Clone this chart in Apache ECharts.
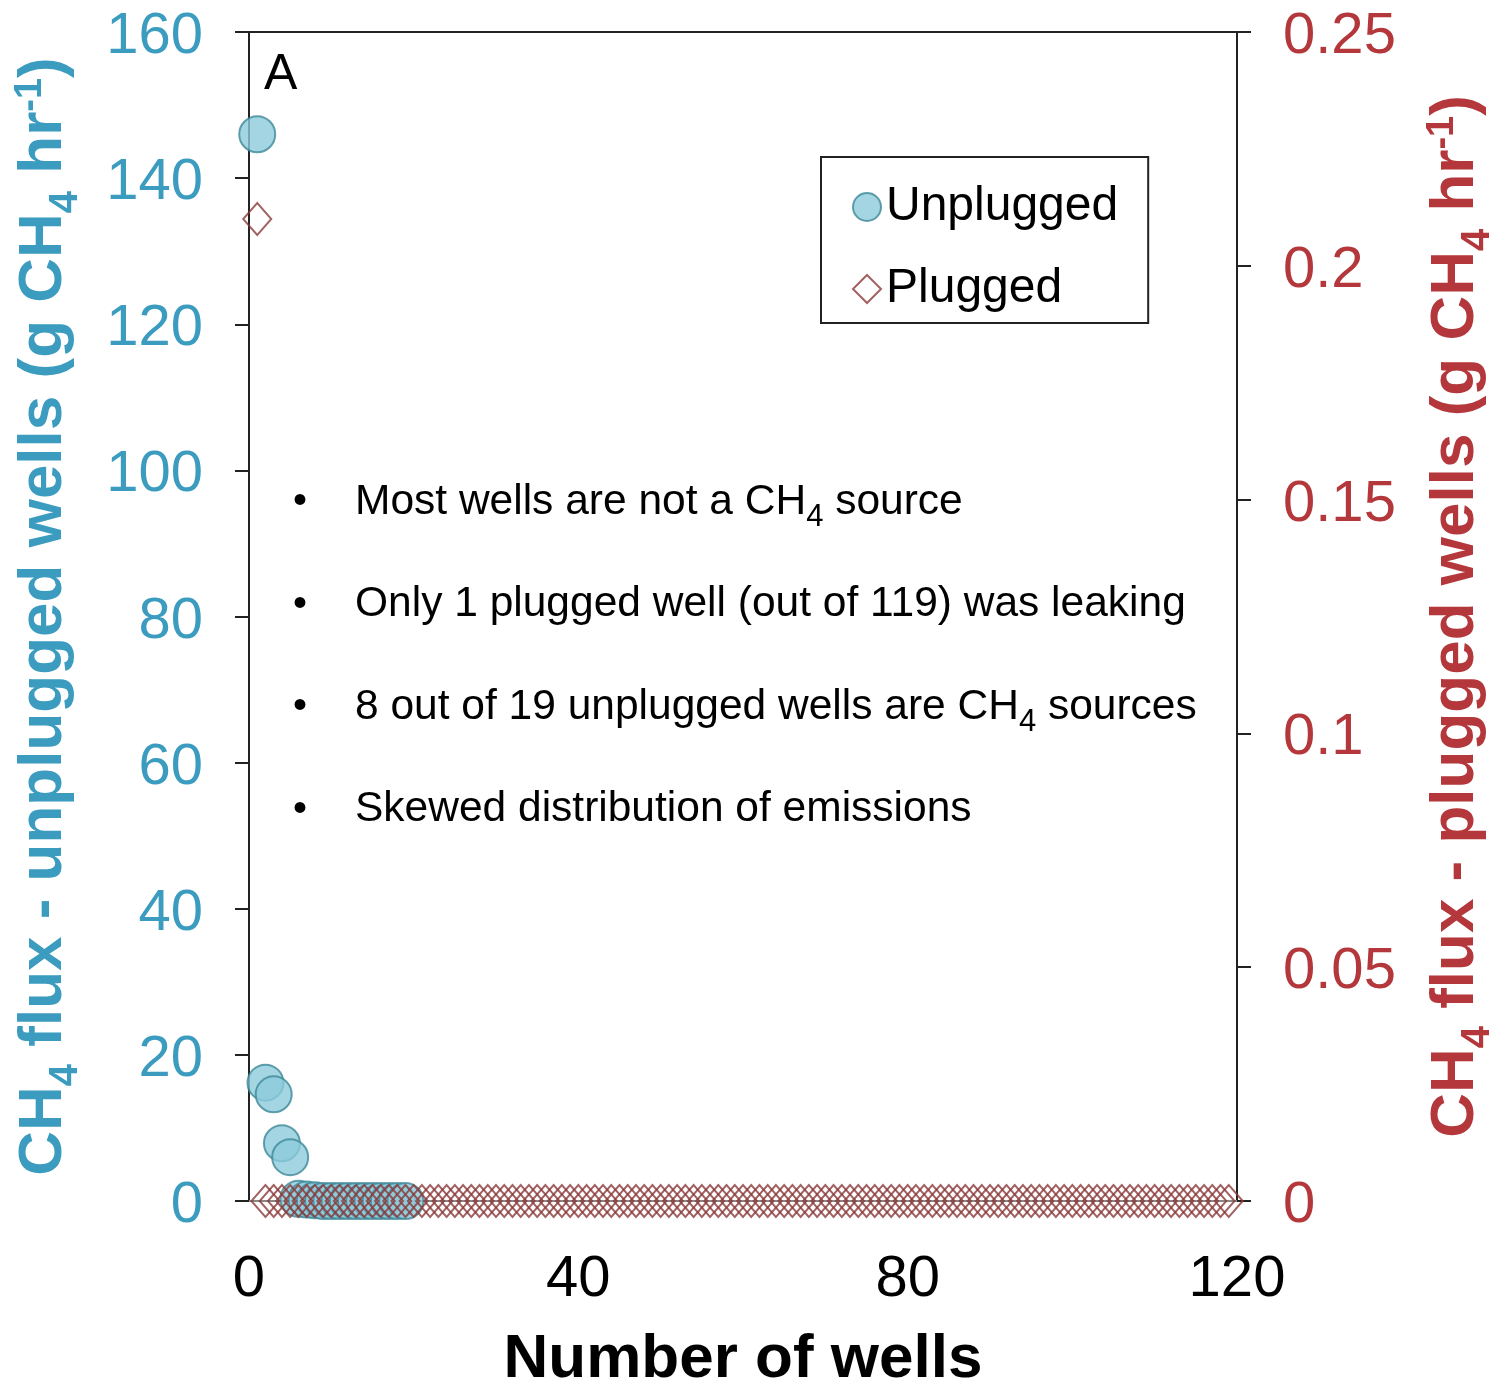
<!DOCTYPE html>
<html>
<head>
<meta charset="utf-8">
<script src="https://cdn.jsdelivr.net/npm/echarts@6/dist/echarts.min.js"></script>
<style>
  html, body { margin: 0; padding: 0; background: #fff; }
  #chart { width: 1489px; height: 1383px; }
</style>
</head>
<body>
<div id="chart"></div>
<script>
// ranked CH4 flux per well (g CH4 / hr)
const unpluggedFlux = [146, 16.2, 14.6, 7.9, 6.0, 0.3, 0.2, 0.1, 0, 0, 0, 0, 0, 0, 0, 0, 0, 0, 0];
const pluggedFlux = [
  0.21, 0, 0, 0, 0, 0, 0, 0, 0, 0, 0, 0, 0, 0, 0, 0, 0, 0, 0, 0,
  0, 0, 0, 0, 0, 0, 0, 0, 0, 0, 0, 0, 0, 0, 0, 0, 0, 0, 0, 0,
  0, 0, 0, 0, 0, 0, 0, 0, 0, 0, 0, 0, 0, 0, 0, 0, 0, 0, 0, 0,
  0, 0, 0, 0, 0, 0, 0, 0, 0, 0, 0, 0, 0, 0, 0, 0, 0, 0, 0, 0,
  0, 0, 0, 0, 0, 0, 0, 0, 0, 0, 0, 0, 0, 0, 0, 0, 0, 0, 0, 0,
  0, 0, 0, 0, 0, 0, 0, 0, 0, 0, 0, 0, 0, 0, 0, 0, 0, 0, 0
];
const xTicks = [0, 40, 80, 120];
const leftTicks = [0, 20, 40, 60, 80, 100, 120, 140, 160];
const rightTicks = [0, 0.05, 0.1, 0.15, 0.2, 0.25];
const notes = [
  '{t|Most wells are not a CH}{s|4}{t| source}',
  '{t|Only 1 plugged well (out of 119) was leaking}',
  '{t|8 out of 19 unplugged wells are CH}{s|4}{t| sources}',
  '{t|Skewed distribution of emissions}'
];

const FONT = '"Liberation Sans", Arial, Helvetica, sans-serif';
const BLUE = '#3b9cbf';
const RED = '#b3373b';

function titleRich(color) {
  return {
    t: { fontSize: 62, fontWeight: 'bold', color: color, fontFamily: FONT },
    s: { fontSize: 40, fontWeight: 'bold', color: color, fontFamily: FONT, padding: [44, 0, 0, 0] },
    p: { fontSize: 38, fontWeight: 'bold', color: color, fontFamily: FONT, padding: [0, 0, 26, 0] }
  };
}

const chart = echarts.init(document.getElementById('chart'));

const noteGraphics = [];
notes.forEach(function (txt, i) {
  const y = 502 + i * 102.5;
  noteGraphics.push({
    type: 'text', x: 300, y: y,
    style: { text: '•', font: '40px ' + FONT, fill: '#000', align: 'center', verticalAlign: 'middle' }
  });
  noteGraphics.push({
    type: 'text', x: 355, y: y,
    style: {
      text: txt, align: 'left', verticalAlign: 'middle',
      rich: {
        t: { fontSize: 42.5, fontFamily: FONT, color: '#000' },
        s: { fontSize: 31, fontFamily: FONT, color: '#000', padding: [30, 0, 0, 0] }
      }
    }
  });
});

const option = {
  animation: false,
  backgroundColor: '#fff',
  grid: {
    left: 249, right: 252, top: 32, bottom: 182,
    outerBoundsMode: 'none',
    containLabel: false,
    show: true, borderColor: '#222', borderWidth: 2
  },
  legend: {
    orient: 'vertical',
    left: 821, top: 157,
    padding: [26, 30, 10, 31],
    itemGap: 34,
    itemWidth: 28, itemHeight: 28,
    borderColor: '#222', borderWidth: 2,
    backgroundColor: '#fff',
    textStyle: { fontSize: 48, fontFamily: FONT, color: '#000', lineHeight: 48 },
    data: ['Unplugged', 'Plugged']
  },
  xAxis: {
    type: 'value',
    min: xTicks[0], max: xTicks[xTicks.length - 1], interval: 40,
    name: 'Number of wells',
    nameLocation: 'middle', nameGap: 128,
    nameTextStyle: { fontSize: 62, fontWeight: 'bold', fontFamily: FONT, color: '#000' },
    axisLine: { show: true, lineStyle: { color: '#888', width: 2 } },
    axisTick: { show: false },
    splitLine: { show: false },
    axisLabel: { fontSize: 58, fontFamily: FONT, color: '#000', margin: 50 }
  },
  yAxis: [
    {
      type: 'value', position: 'left',
      min: leftTicks[0], max: leftTicks[leftTicks.length - 1], interval: 20,
      name: '{t|CH}{s|4}{t| flux - unplugged wells (g CH}{s|4}{t| hr}{p|-1}{t|)}',
      nameLocation: 'middle', nameRotate: 90, nameGap: 163,
      nameTextStyle: { rich: titleRich(BLUE) },
      axisLine: { show: true, lineStyle: { color: '#222', width: 2 } },
      axisTick: { show: true, inside: false, length: 14, lineStyle: { color: '#222', width: 2 } },
      splitLine: { show: false },
      axisLabel: {
        fontSize: 58, fontFamily: FONT, color: BLUE, margin: 46,
        formatter: '{v|{value}}',
        rich: { v: { fontSize: 58, fontFamily: FONT, color: BLUE, padding: [10, 0, 0, 0] } }
      }
    },
    {
      type: 'value', position: 'right',
      min: rightTicks[0], max: rightTicks[rightTicks.length - 1], interval: 0.05,
      name: '{t|CH}{s|4}{t| flux - plugged wells (g CH}{s|4}{t| hr}{p|-1}{t|)}',
      nameLocation: 'middle', nameRotate: 90, nameGap: 177,
      nameTextStyle: { rich: titleRich(RED) },
      axisLine: { show: true, lineStyle: { color: '#222', width: 2 } },
      axisTick: { show: true, inside: false, length: 14, lineStyle: { color: '#222', width: 2 } },
      splitLine: { show: false },
      axisLabel: {
        fontSize: 58, fontFamily: FONT, color: RED, margin: 46,
        formatter: '{v|{value}}',
        rich: { v: { fontSize: 58, fontFamily: FONT, color: RED, padding: [10, 0, 0, 0] } }
      }
    }
  ],
  series: [
    {
      name: 'Unplugged', type: 'scatter', yAxisIndex: 0,
      symbol: 'circle', symbolSize: 36,
      itemStyle: { color: '#8ccadb', borderColor: '#3d8898', borderWidth: 2 },
      data: unpluggedFlux.map(function (v, i) { return [i + 1, v]; })
    },
    {
      name: 'Plugged', type: 'scatter', yAxisIndex: 1,
      symbol: 'diamond', symbolSize: [28, 32],
      itemStyle: { color: 'rgba(255,255,255,0)', borderColor: '#8b3a3a', borderWidth: 2 },
      data: pluggedFlux.map(function (v, i) { return [i + 1, v]; })
    }
  ],
  graphic: [
    {
      type: 'text', x: 264, y: 75,
      style: { text: 'A', font: '50px ' + FONT, fill: '#000', align: 'left', verticalAlign: 'middle' }
    }
  ].concat(noteGraphics)
};

chart.setOption(option);
</script>
</body>
</html>
